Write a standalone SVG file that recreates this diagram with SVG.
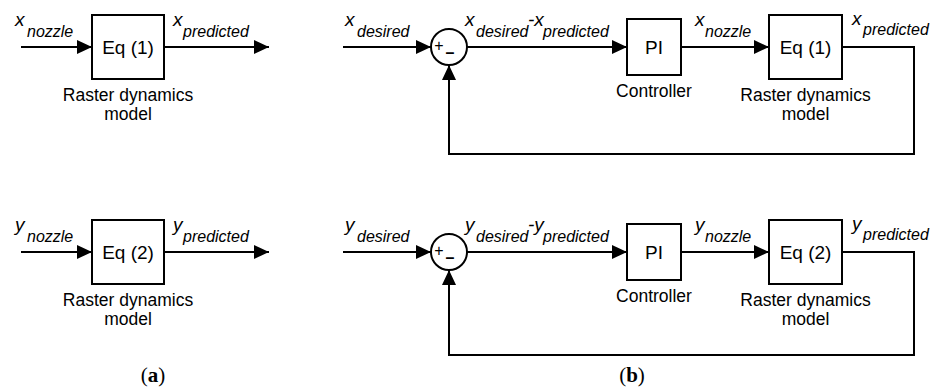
<svg xmlns="http://www.w3.org/2000/svg" width="932" height="390" viewBox="0 0 932 390">
<defs>
<marker id="ah" markerUnits="userSpaceOnUse" markerWidth="16" markerHeight="16" viewBox="0 0 16 16" refX="15" refY="8" orient="auto">
<path d="M0,1 L15,8 L0,15 Z" fill="#000"/>
</marker>
<style>
.box{fill:#fff;stroke:#000;stroke-width:2}
.ln{fill:none;stroke:#000;stroke-width:2}
.arr{fill:none;stroke:#000;stroke-width:2;marker-end:url(#ah)}
.t{font-family:"Liberation Sans",Arial,sans-serif;font-size:17.5px;fill:#000;text-anchor:middle}
.eq{font-family:"Liberation Sans",Arial,sans-serif;font-size:19px;fill:#000;text-anchor:middle}
.v{font-family:"Liberation Sans",Arial,sans-serif;font-size:19px;font-style:italic;fill:#000}
.s{font-family:"Liberation Sans",Arial,sans-serif;font-size:16px;font-style:italic;fill:#000}
.sg{font-family:"Liberation Sans",Arial,sans-serif;fill:#000}
.cap{font-family:"Liberation Serif","Times New Roman",serif;font-size:21px;fill:#000;text-anchor:middle}
</style>
</defs>
<g id="connectors">
<line class="arr" x1="21" y1="47" x2="92" y2="47"/>
<line class="arr" x1="164" y1="47" x2="269" y2="47"/>
<line class="arr" x1="21" y1="252" x2="92" y2="252"/>
<line class="arr" x1="164" y1="252" x2="269" y2="252"/>
<line class="arr" x1="343" y1="47" x2="431" y2="47"/>
<line class="arr" x1="467" y1="47" x2="627" y2="47"/>
<line class="arr" x1="681" y1="47" x2="769" y2="47"/>
<polyline class="arr" points="842,47 914,47 914,154 449,154 449,65"/>
<line class="arr" x1="343" y1="252" x2="431" y2="252"/>
<line class="arr" x1="467" y1="252" x2="627" y2="252"/>
<line class="arr" x1="681" y1="252" x2="769" y2="252"/>
<polyline class="arr" points="842,252 914,252 914,355 449,355 449,270"/>
</g>
<g id="a-eq1">
<rect class="box" x="92" y="15" width="72" height="64"/>
<text class="eq" x="128" y="54">Eq (1)</text>
<text class="t" x="128" y="101">Raster dynamics</text>
<text class="t" x="128" y="120">model</text>
</g>
<g id="a-eq2">
<rect class="box" x="92" y="220" width="72" height="64"/>
<text class="eq" x="128" y="259">Eq (2)</text>
<text class="t" x="128" y="306">Raster dynamics</text>
<text class="t" x="128" y="325">model</text>
</g>
<g id="b-sum1">
<circle class="box" cx="449" cy="47" r="18"/>
<text class="sg" x="439" y="51" font-size="16" text-anchor="middle">+</text>
<text class="sg" x="450" y="58" font-size="16" font-weight="bold" text-anchor="middle">–</text>
</g>
<g id="b-pi1">
<rect class="box" x="627" y="19" width="54" height="56"/>
<text class="eq" x="654" y="54">PI</text>
<text class="t" x="654" y="97">Controller</text>
</g>
<g id="b-eq1">
<rect class="box" x="769" y="15" width="73" height="64"/>
<text class="eq" x="805.5" y="54">Eq (1)</text>
<text class="t" x="805.5" y="101">Raster dynamics</text>
<text class="t" x="805.5" y="120">model</text>
</g>
<g id="b-sum2">
<circle class="box" cx="449" cy="252" r="18"/>
<text class="sg" x="439" y="256" font-size="16" text-anchor="middle">+</text>
<text class="sg" x="450" y="263" font-size="16" font-weight="bold" text-anchor="middle">–</text>
</g>
<g id="b-pi2">
<rect class="box" x="627" y="224" width="54" height="56"/>
<text class="eq" x="654" y="259">PI</text>
<text class="t" x="654" y="302">Controller</text>
</g>
<g id="b-eq2">
<rect class="box" x="769" y="220" width="73" height="64"/>
<text class="eq" x="805.5" y="259">Eq (2)</text>
<text class="t" x="805.5" y="306">Raster dynamics</text>
<text class="t" x="805.5" y="325">model</text>
</g>
<g id="labels">
<text class="v" x="15" y="26">x</text><text class="s" x="27" y="37">nozzle</text>
<text class="v" x="173" y="26">x</text><text class="s" x="183" y="37">predicted</text>
<text class="v" x="15" y="231">y</text><text class="s" x="27" y="242">nozzle</text>
<text class="v" x="173" y="231">y</text><text class="s" x="183" y="242">predicted</text>
<text class="v" x="345" y="26">x</text><text class="s" x="357" y="37">desired</text>
<text class="v" x="465" y="26">x</text><text class="s" x="476" y="37">desired</text><text class="v" x="528" y="26">-x</text><text class="s" x="543" y="37">predicted</text>
<text class="v" x="695" y="26">x</text><text class="s" x="705" y="37">nozzle</text>
<text class="v" x="852" y="25">x</text><text class="s" x="863" y="35">predicted</text>
<text class="v" x="345" y="231">y</text><text class="s" x="357" y="242">desired</text>
<text class="v" x="465" y="231">y</text><text class="s" x="476" y="242">desired</text><text class="v" x="528" y="231">-y</text><text class="s" x="543" y="242">predicted</text>
<text class="v" x="695" y="231">y</text><text class="s" x="705" y="242">nozzle</text>
<text class="v" x="852" y="230">y</text><text class="s" x="863" y="240">predicted</text>
<text class="cap" x="153" y="382">(<tspan font-weight="bold">a</tspan>)</text>
<text class="cap" x="632" y="382">(<tspan font-weight="bold">b</tspan>)</text>
</g>
</svg>
